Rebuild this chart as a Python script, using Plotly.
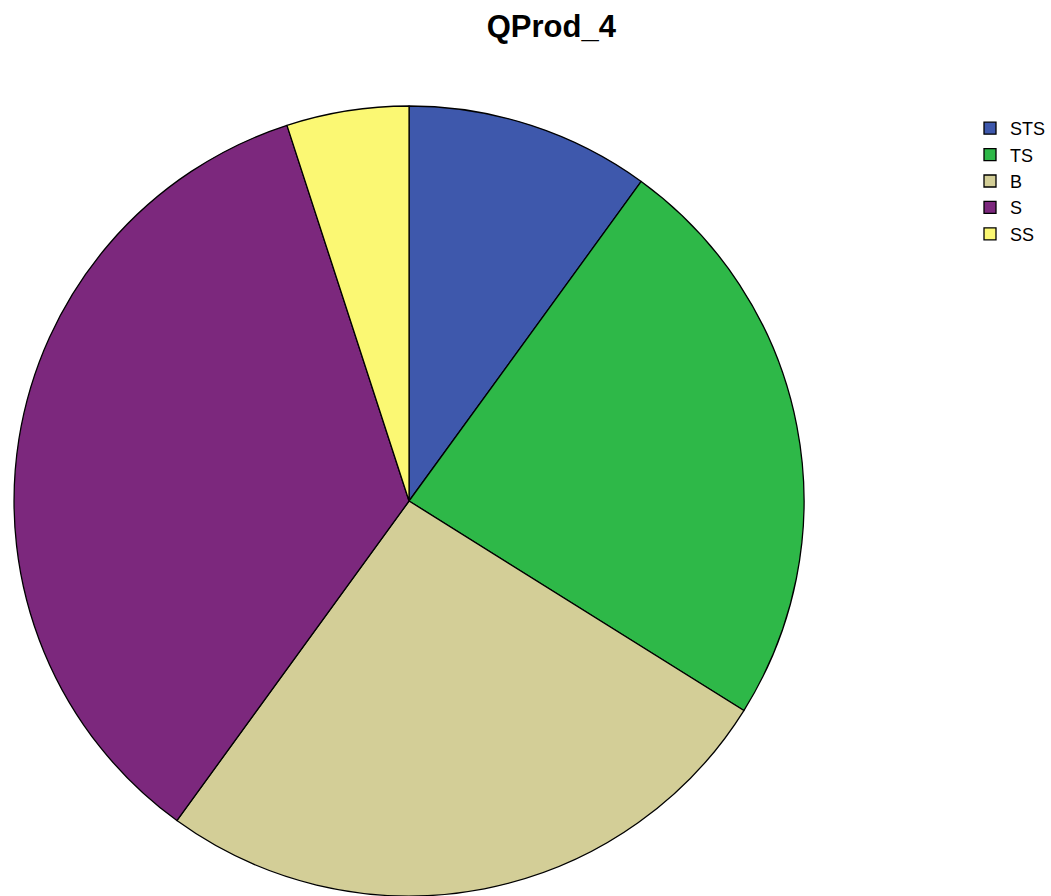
import plotly.graph_objects as go

categories = ["STS", "TS", "B", "S", "SS"]
values = [10.0, 23.9, 26.1, 35.0, 5.0]
colors = ["#3E58AC", "#2EB848", "#D3CE97", "#7C287D", "#FBF873"]
title_text = "QProd_4"

W, H = 1051, 896
cx, cy, r = 411, 501, 397

fig = go.Figure(
    go.Pie(
        labels=categories,
        values=values,
        sort=False,
        direction="clockwise",
        rotation=0,
        textinfo="none",
        hoverinfo="label+percent",
        marker=dict(colors=colors, line=dict(color="#000000", width=1.3)),
        domain=dict(
            x=[(cx - r) / W, (cx + r) / W],
            y=[0, 2 * (H - cy) / H],
        ),
    )
)

fig.update_layout(
    width=W,
    height=H,
    margin=dict(l=0, r=0, t=0, b=0),
    paper_bgcolor="white",
    plot_bgcolor="white",
    title=dict(
        text="<b>" + title_text + "</b>",
        x=554 / W,
        xanchor="center",
        xref="paper",
        y=1 - 26 / H,
        yanchor="middle",
        yref="paper",
        font=dict(family="Liberation Sans, Arial, sans-serif", size=31, color="black"),
    ),
    legend=dict(
        x=975 / W,
        xanchor="left",
        y=1 - 110 / H,
        yanchor="top",
        font=dict(family="Liberation Sans, Arial, sans-serif", size=18, color="black"),
        bgcolor="rgba(0,0,0,0)",
        tracegroupgap=0,
    ),
    showlegend=True,
)

fig.write_html("out.html")
